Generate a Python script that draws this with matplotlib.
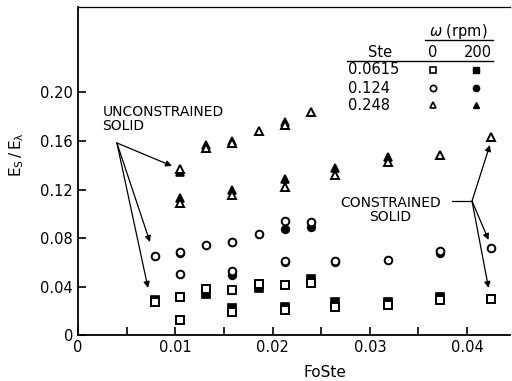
import matplotlib
matplotlib.use("Agg")
import matplotlib.pyplot as plt

plt.rcParams['font.family'] = ['DejaVu Sans']

# Ste = 0.0615 (squares)
sq0_x = [0.0079, 0.0105, 0.0105, 0.0132, 0.0158, 0.0158, 0.0186, 0.0213, 0.0213, 0.0239, 0.0264, 0.0319, 0.0372, 0.0425]
sq0_y = [0.027, 0.0316, 0.0124, 0.0377, 0.037, 0.0187, 0.042, 0.0412, 0.0206, 0.0426, 0.0234, 0.0247, 0.0289, 0.0297]
sq2_x = [0.0079, 0.0132, 0.0158, 0.0186, 0.0213, 0.0239, 0.0264, 0.0319, 0.0372]
sq2_y = [0.029, 0.0335, 0.022, 0.039, 0.0234, 0.046, 0.027, 0.0275, 0.0316]

# Ste = 0.124 (circles)
ci0_x = [0.0079, 0.0105, 0.0105, 0.0132, 0.0158, 0.0158, 0.0186, 0.0213, 0.0213, 0.0239, 0.0264, 0.0319, 0.0372, 0.0425]
ci0_y = [0.0651, 0.0687, 0.050, 0.0742, 0.077, 0.0528, 0.0833, 0.0943, 0.061, 0.0935, 0.061, 0.0619, 0.069, 0.0715]
ci2_x = [0.0105, 0.0158, 0.0158, 0.0213, 0.0213, 0.0239, 0.0264, 0.0372]
ci2_y = [0.0675, 0.0765, 0.0495, 0.0871, 0.060, 0.0894, 0.060, 0.0674]

# Ste = 0.248 (triangles)
tr0_x = [0.0105, 0.0105, 0.0132, 0.0158, 0.0158, 0.0186, 0.0213, 0.0213, 0.0239, 0.0264, 0.0319, 0.0372, 0.0425]
tr0_y = [0.1366, 0.109, 0.154, 0.1586, 0.1155, 0.168, 0.173, 0.122, 0.184, 0.132, 0.1424, 0.1485, 0.163]
tr2_x = [0.0105, 0.0105, 0.0132, 0.0158, 0.0158, 0.0213, 0.0213, 0.0264, 0.0319]
tr2_y = [0.1345, 0.1127, 0.1567, 0.160, 0.1196, 0.176, 0.129, 0.1375, 0.1466]

ste_labels = ["0.0615", "0.124", "0.248"]
markers = ["s", "o", "^"]

xticks = [0, 0.01, 0.02, 0.03, 0.04]
xlabels = ["0", "0.01", "0.02", "0.03", "0.04"]
yticks = [0, 0.04, 0.08, 0.12, 0.16, 0.20]
ylabels = ["0", "0.04", "0.08", "0.12", "0.16", "0.20"]

fig = plt.figure(figsize=(5.12, 3.81), dpi=100)
ax = fig.add_axes([0.1523, 0.1207, 0.996 - 0.1523, 0.9816 - 0.1207])

series = [(sq0_x, sq0_y, sq2_x, sq2_y), (ci0_x, ci0_y, ci2_x, ci2_y), (tr0_x, tr0_y, tr2_x, tr2_y)]
for m, (x0, y0, x2, y2) in zip(markers, series):
    ax.plot(x2, y2, m, ms=5.5, mfc='k', mec='k', mew=1.2, ls='none')
    ax.plot(x0, y0, m, ms=5.5, mfc='white', mec='k', mew=1.4, ls='none')

ax.set_xlim(0, 0.0444)
ax.set_ylim(0, 0.2705)
ax.set_xticks(xticks)
ax.set_xticklabels(xlabels)
ax.set_xticks([0.005, 0.015, 0.025, 0.035], minor=True)
ax.set_yticks(yticks)
ax.set_yticklabels(ylabels)
ax.tick_params(which='both', direction='in', length=6, width=1.2, labelsize=10.5)
ax.spines['right'].set_visible(False)
for s in ['left', 'bottom']:
    ax.spines[s].set_linewidth(1.3)
ax.spines['top'].set_linewidth(0.9)

ax.set_xlabel("FoSte", fontsize=11)
ax.xaxis.set_label_coords(0.572, -0.09)
ax.set_ylabel(r"$\mathregular{E_S\,/\,E_\lambda}$", fontsize=11)
ax.yaxis.set_label_coords(-0.12, 0.55)

# legend table
tr = ax.transAxes
fs = 10.5
ax.text(0.880, 0.924, r"$\omega$ (rpm)", transform=tr, ha='center', va='center', fontsize=fs)
ax.plot([0.803, 0.961], [0.899, 0.899], color='k', lw=1, transform=tr, clip_on=False)
ax.text(0.699, 0.860, "Ste", transform=tr, ha='center', va='center', fontsize=fs)
ax.text(0.822, 0.860, "0", transform=tr, ha='center', va='center', fontsize=fs)
ax.text(0.926, 0.860, "200", transform=tr, ha='center', va='center', fontsize=fs)
ax.plot([0.623, 0.961], [0.835, 0.835], color='k', lw=1, transform=tr, clip_on=False)
for lab, m, fy in zip(ste_labels, markers, [0.808, 0.753, 0.701]):
    ax.text(0.625, fy, lab, transform=tr, ha='left', va='center', fontsize=fs)
    ax.plot([0.822], [fy], m, ms=4.5, mfc='white', mec='k', mew=1.2, transform=tr)
    ax.plot([0.921], [fy], m, ms=4.5, mfc='k', mec='k', transform=tr)

# annotations
ax.text(0.0025, 0.178, "UNCONSTRAINED\nSOLID", ha='left', va='center', fontsize=10, linespacing=1.0)
arr = dict(arrowstyle='-|>', color='k', lw=0.9, mutation_scale=9, shrinkA=0, shrinkB=0)
for tip in [(0.00966, 0.1394), (0.0074, 0.0767), (0.0072, 0.0388)]:
    ax.annotate("", xy=tip, xytext=(0.0040, 0.1584), arrowprops=arr)

ax.text(0.0321, 0.103, "CONSTRAINED\nSOLID", ha='center', va='center', fontsize=10, linespacing=1.0)
ax.plot([0.0384, 0.0405], [0.1105, 0.1105], color='k', lw=0.9)
for tip in [(0.04234, 0.1567), (0.0422, 0.0784), (0.0422, 0.0388)]:
    ax.annotate("", xy=tip, xytext=(0.0405, 0.1105), arrowprops=arr)

fig.savefig("out.png", dpi=100)
